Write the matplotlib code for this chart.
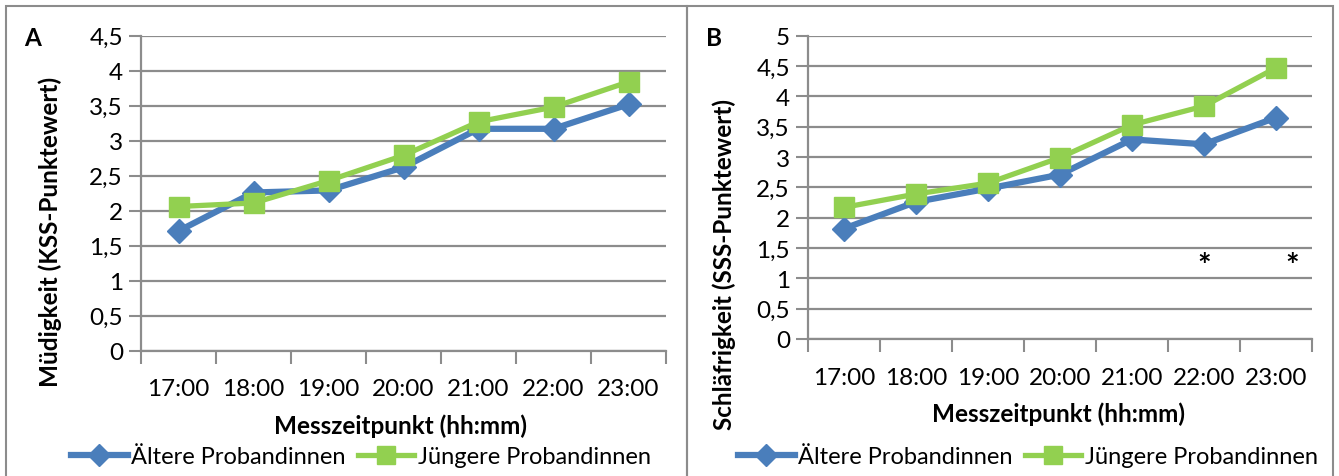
import matplotlib
matplotlib.use("Agg")
import matplotlib.pyplot as plt
from matplotlib.lines import Line2D
from matplotlib.patches import Rectangle

# ---- data ----
times = ["17:00", "18:00", "19:00", "20:00", "21:00", "22:00", "23:00"]
series_names = ["Ältere Probandinnen", "Jüngere Probandinnen"]

kss_older = [1.71, 2.26, 2.29, 2.62, 3.17, 3.17, 3.52]
kss_younger = [2.06, 2.11, 2.43, 2.79, 3.27, 3.48, 3.84]

sss_older = [1.82, 2.26, 2.48, 2.71, 3.29, 3.21, 3.65]
sss_younger = [2.17, 2.39, 2.57, 2.99, 3.53, 3.84, 4.47]

kss_yticks = [0, 0.5, 1, 1.5, 2, 2.5, 3, 3.5, 4, 4.5]
kss_yticklabels = ["0", "0,5", "1", "1,5", "2", "2,5", "3", "3,5", "4", "4,5"]
sss_yticks = [0, 0.5, 1, 1.5, 2, 2.5, 3, 3.5, 4, 4.5, 5]
sss_yticklabels = ["0", "0,5", "1", "1,5", "2", "2,5", "3", "3,5", "4", "4,5", "5"]

sig_times = ["22:00", "23:00"]
sig_level = 1.2

# ---- style ----
W, H = 1339, 477
DPI = 100
FONT = ["Lato", "DejaVu Sans"]
plt.rcParams["font.family"] = FONT
BLUE = "#4a7ebb"
GREEN = "#92d050"
GRID = "#8c8c8c"
FS_TICK = 17.5
FS_LAB = 17.5
FS_LEG = 17

fig = plt.figure(figsize=(W / DPI, H / DPI), dpi=DPI)


def px_axes(left, right, top, bottom):
    return fig.add_axes([left / W, 1 - bottom / H, (right - left) / W, (bottom - top) / H])


def style_axes(ax, yticks, yticklabels, ymax):
    n = len(times)
    ax.set_xlim(-0.5, n - 0.5)
    ax.set_ylim(0, ymax)
    ax.set_xticks(range(n))
    ax.set_xticklabels(times, fontsize=FS_TICK)
    ax.set_xticks([i - 0.5 for i in range(n + 1)], minor=True)
    ax.tick_params(axis="x", which="major", length=0, pad=20)
    ax.tick_params(axis="x", which="minor", length=9, width=1.5, color=GRID, direction="out")
    ax.set_yticks(yticks)
    ax.set_yticklabels(yticklabels, fontsize=FS_TICK)
    ax.tick_params(axis="y", length=9, width=1.5, color=GRID, direction="out", pad=4)
    ax.yaxis.grid(True, color=GRID, linewidth=1.6)
    ax.set_axisbelow(True)
    for s in ("top", "right"):
        ax.spines[s].set_visible(False)
    for s in ("left", "bottom"):
        ax.spines[s].set_color(GRID)
        ax.spines[s].set_linewidth(1.6)


def draw_series(ax, older, younger):
    x = range(len(times))
    ax.plot(x, older, color=BLUE, lw=4.5, marker="D", markersize=12,
            markerfacecolor=BLUE, markeredgecolor=BLUE, zorder=3, clip_on=False)
    ax.plot(x, younger, color=GREEN, lw=3.8, marker="s", markersize=14,
            markerfacecolor=GREEN, markeredgecolor=GREEN, zorder=4, clip_on=False)


def legend(cx, cy):
    handles = [
        Line2D([], [], color=BLUE, lw=4.5, marker="D", markersize=11),
        Line2D([], [], color=GREEN, lw=3.8, marker="s", markersize=13),
    ]
    fig.legend(handles, series_names, loc="center", bbox_to_anchor=(cx / W, 1 - cy / H),
               ncol=2, frameon=False, fontsize=FS_LEG, handlelength=2.4, handletextpad=0.15,
               columnspacing=0.5, borderpad=0, borderaxespad=0)


# panel frames
fig.patches.append(Rectangle((6 / W, -0.1), (687 - 6) / W, 1.1 - 7 / H,
                             transform=fig.transFigure, fill=False, edgecolor=GRID, lw=1.5))
fig.patches.append(Rectangle((687 / W, -0.1), (1333 - 687) / W, 1.1 - 7 / H,
                             transform=fig.transFigure, fill=False, edgecolor=GRID, lw=1.5))

# Panel A
axA = px_axes(141, 666, 36.7, 351.7)
style_axes(axA, kss_yticks, kss_yticklabels, 4.5)
draw_series(axA, kss_older, kss_younger)
fig.text(33 / W, 1 - 38 / H, "A", fontsize=FS_LAB, fontweight="bold", ha="center", va="center")
fig.text(50 / W, 1 - 232 / H, "Müdigkeit (KSS-Punktewert)", rotation=90, fontsize=FS_LAB,
         fontweight="bold", ha="center", va="center")
fig.text(401 / W, 1 - 426 / H, "Messzeitpunkt (hh:mm)", fontsize=FS_LAB, fontweight="bold",
         ha="center", va="center")
legend(361, 458)

# Panel B
axB = px_axes(808, 1312, 36.7, 340)
style_axes(axB, sss_yticks, sss_yticklabels, 5)
draw_series(axB, sss_older, sss_younger)
for t in sig_times:
    i = times.index(t)
    off = 0.22 if i == len(times) - 1 else 0.0
    axB.text(i + off, sig_level, "*", fontsize=23, fontweight="bold",
             ha="center", va="center")
fig.text(714 / W, 1 - 38 / H, "B", fontsize=FS_LAB, fontweight="bold", ha="center", va="center")
fig.text(724 / W, 1 - 265 / H, "Schläfrigkeit (SSS-Punktewert)", rotation=90, fontsize=FS_LAB,
         fontweight="bold", ha="center", va="center")
fig.text(1058 / W, 1 - 414 / H, "Messzeitpunkt (hh:mm)", fontsize=FS_LAB, fontweight="bold",
         ha="center", va="center")
legend(1028, 458)

fig.savefig("out.png", dpi=DPI)
